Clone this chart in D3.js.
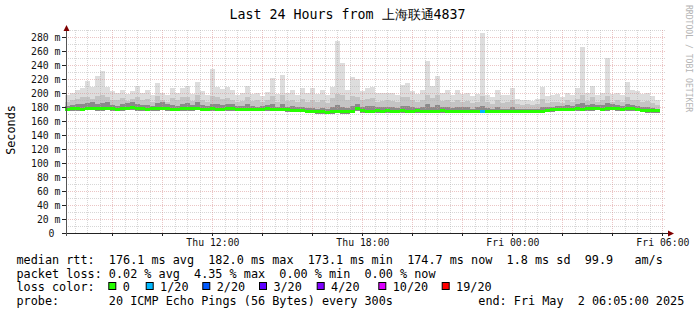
<!DOCTYPE html>
<html>
<head>
<meta charset="utf-8">
<script src="https://cdn.jsdelivr.net/npm/d3@7"></script>
<style>
  html, body { margin: 0; padding: 0; background: #fff; }
  svg { display: block; }
  text { font-family: "DejaVu Sans Mono", monospace; white-space: pre; }
</style>
</head>
<body>
<div id="app"></div>
<script>
// --- data (ms), one value per 12 minute bin ---
const med = [177.2,177.5,177.8,177.4,178.2,178.9,177.6,177.9,178.3,177.5,177.2,177.6,178.4,179.0,177.8,177.5,177.3,177.6,177.9,178.6,
  177.8,177.4,177.2,177.6,177.9,177.5,178.1,177.3,177.0,177.6,177.4,177.2,177.5,177.8,177.3,177.0,177.4,177.1,176.8,177.2,
  177.5,176.9,176.6,177.0,176.3,175.9,175.4,175.0,174.4,173.6,173.3,173.5,173.1,173.4,174.0,173.5,173.4,174.1,178.0,174.8,
  174.6,174.4,174.7,174.5,174.9,174.6,174.3,174.8,174.5,174.4,174.7,174.5,174.3,174.6,174.4,174.7,174.5,174.2,174.4,174.6,
  174.3,174.2,174.5,174.0,174.3,174.1,174.4,174.2,174.0,174.3,174.1,173.9,174.2,174.0,174.3,174.6,175.2,176.3,176.9,177.2,
  177.0,177.4,177.6,177.3,177.8,177.5,177.9,177.4,177.6,178.2,177.5,177.3,177.8,177.5,176.8,175.2,174.9,174.7,174.7];
const lo = [174.8,175.0,175.2,174.9,175.5,176.0,175.0,175.3,175.6,175.0,174.8,175.1,175.7,176.1,175.2,175.0,174.8,175.1,175.3,175.9,
  175.2,174.9,174.7,175.1,175.3,175.0,175.5,174.8,174.5,175.0,174.9,174.7,175.0,175.2,174.8,174.5,174.9,174.6,174.3,174.7,
  175.0,174.4,174.1,174.5,173.8,173.4,172.9,172.5,171.9,171.1,170.8,171.0,170.6,170.9,171.4,171.0,170.9,171.5,174.9,172.2,
  172.1,171.9,172.2,172.0,172.3,172.1,171.8,172.2,172.0,171.9,172.2,172.0,171.8,172.1,171.9,172.2,172.0,171.7,171.9,172.1,
  171.8,171.7,172.0,171.3,171.8,171.6,171.9,171.7,171.5,171.8,171.6,171.4,171.7,171.5,171.8,172.1,172.7,173.8,174.4,174.7,
  174.5,174.9,175.1,174.8,175.3,175.0,175.4,174.9,175.1,175.7,175.0,174.8,175.3,175.0,174.3,172.7,172.4,172.2,172.2];
const darkTop = [182,183,185,184,186,187,185,186,187,183,182,184,186,188,185,183,183,182,186,187,
  184,183,182,185,186,183,187,183,182,185,184,183,185,184,182,182,184,182,181,182,
  183,184,181,185,181,182,180,181,179,179,178,179,177,180,183,181,179,182,185,181,
  182,182,180,180,181,180,179,182,182,180,179,181,184,181,183,180,181,179,180,180,
  180,178,180,182,179,178,180,178,178,180,177,177,177,177,178,181,180,181,182,182,
  183,182,184,186,183,185,183,183,186,184,183,182,185,183,182,180,180,179,178];
const midTop = [188,190,192,194,195,192,196,198,194,191,190,193,189,192,195,190,192,188,196,190,
  188,193,190,194,195,189,197,191,188,196,194,192,193,191,188,189,194,189,190,187,
  190,196,188,197,189,191,187,192,188,191,187,190,186,193,199,197,190,196,195,190,
  192,193,188,189,190,189,187,194,195,190,188,191,198,193,197,189,191,187,190,188,
  189,186,188,196,187,185,190,186,187,191,184,183,184,183,185,192,186,187,188,186,
  190,188,192,197,189,194,188,190,196,188,190,187,195,191,190,187,189,186,183];
const maxRtt = [197,200,205,207,218,209,225,232,209,203,200,205,199,203,210,201,205,198,214,200,
  197,207,201,207,210,199,216,203,198,235,209,206,209,204,197,201,210,199,200,196,
  202,222,199,226,201,205,198,208,200,208,199,205,197,209,275,243,204,223,220,203,
  207,209,200,200,201,201,197,212,214,203,199,205,246,210,225,200,205,198,205,199,
  201,196,199,286,198,194,205,197,198,207,192,190,191,189,192,209,196,197,199,195,
  201,198,207,266,200,211,198,201,251,199,201,197,216,205,203,199,201,196,190];
const lossBins = [83];
const lossPings = [1];

const yTicks = [0,20,40,60,80,100,120,140,160,180,200,220,240,260,280];
const xTickLabels = ["Thu 12:00","Thu 18:00","Fri 00:00","Fri 06:00"];
const xTickTimes = [Date.UTC(2025,4,1,12), Date.UTC(2025,4,1,18), Date.UTC(2025,4,2,0), Date.UTC(2025,4,2,6)];

const lossLabels = ["0","1/20","2/20","3/20","4/20","10/20","19/20"];
const lossColors = ["#26ff00","#00b8ff","#0059ff","#5e00ff","#7e00ff","#dd00ff","#ff0000"];
const lossSteps = [0,1,2,3,4,10,19];

const title = "Last 24 Hours from 上海联通4837";
const legendLines = [
  "median rtt:  176.1 ms avg  182.0 ms max  173.1 ms min  174.7 ms now  1.8 ms sd  99.9   am/s",
  "packet loss: 0.02 % avg  4.35 % max  0.00 % min  0.00 % now"
];
const probeText = "probe:       20 ICMP Echo Pings (56 Bytes) every 300s";
const endText = "end: Fri May  2 06:05:00 2025";

const startTime = Date.UTC(2025,4,1,6,5);
const endTime = Date.UTC(2025,4,2,6,5);
const binMs = 12 * 60 * 1000;

// --- layout ---
const W = 697, H = 315;
const x = d3.scaleUtc().domain([startTime, endTime]).range([65, 665]);
const y = d3.scaleLinear().domain([0, 290]).range([233, 30.4]);
const px = v => Math.floor(v) + 0.5;

const svg = d3.select("#app").append("svg")
  .attr("width", W).attr("height", H)
  .attr("viewBox", [0, 0, W, H]);

svg.append("rect").attr("width", W).attr("height", H).attr("fill", "#fff");

const bins = med.map((m, i) => {
  const li = lossBins.indexOf(i);
  return {
    t0: startTime + i * binMs,
    t1: startTime + (i + 1) * binMs,
    med: m, lo: lo[i], dark: darkTop[i], mid: midTop[i], max: maxRtt[i],
    loss: li >= 0 ? lossPings[li] : 0
  };
});

// smoke
const smoke = svg.append("g").attr("shape-rendering", "crispEdges");
[["max", "#dddddd"], ["mid", "#c4c4c4"], ["dark", "#8a8a8a"]].forEach(([key, col]) => {
  smoke.append("g").selectAll("rect").data(bins).join("rect")
    .attr("x", d => x(d.t0))
    .attr("width", d => x(d.t1) - x(d.t0))
    .attr("y", d => y(d[key]))
    .attr("height", d => y(d.lo) - y(d[key]))
    .attr("fill", col);
});

// grid on top of the smoke
const grid = svg.append("g");
const minorCol = "rgba(175,175,175,0.5)";
const majorCol = "rgba(215,140,140,0.5)";
const minorY = d3.range(10, 291, 10).filter(v => v % 20 !== 0);
const majorY = d3.range(20, 281, 20);
grid.selectAll(".gy").data(minorY).join("line")
  .attr("x1", 66).attr("x2", 665)
  .attr("y1", d => px(y(d))).attr("y2", d => px(y(d)))
  .attr("stroke", minorCol).attr("stroke-dasharray", "1,1");
grid.selectAll(".gx").data(d3.utcMinute.every(30).range(new Date(startTime), new Date(endTime))
    .filter(t => !(t.getUTCMinutes() === 0 && t.getUTCHours() % 2 === 0)))
  .join("line")
  .attr("x1", d => px(x(d))).attr("x2", d => px(x(d)))
  .attr("y1", 30).attr("y2", 233)
  .attr("stroke", minorCol).attr("stroke-dasharray", "1,1");
grid.selectAll(".my").data(majorY).join("line")
  .attr("x1", 66).attr("x2", 665)
  .attr("y1", d => px(y(d))).attr("y2", d => px(y(d)))
  .attr("stroke", majorCol).attr("stroke-dasharray", "1,1");
const majorX = d3.utcHour.every(2).range(new Date(startTime), new Date(endTime));
grid.selectAll(".mx").data(majorX).join("line")
  .attr("x1", d => px(x(d))).attr("x2", d => px(x(d)))
  .attr("y1", 30).attr("y2", 233)
  .attr("stroke", majorCol).attr("stroke-dasharray", "1,1");

// median, coloured by loss
svg.append("g").attr("shape-rendering", "crispEdges")
  .selectAll("rect").data(bins).join("rect")
  .attr("x", d => x(d.t0))
  .attr("width", d => x(d.t1) - x(d.t0))
  .attr("y", d => y(d.med) - 1.5)
  .attr("height", 3)
  .attr("fill", d => {
    let c = lossColors[0];
    lossSteps.forEach((s, k) => { if (d.loss >= s) c = lossColors[k]; });
    return c;
  });

// axes
const ax = svg.append("g");
ax.append("line").attr("x1", 62).attr("x2", 669).attr("y1", 233.5).attr("y2", 233.5)
  .attr("stroke", "#222");
ax.append("line").attr("x1", 66.5).attr("x2", 66.5).attr("y1", 236).attr("y2", 30)
  .attr("stroke", "#555");
ax.append("path").attr("d", "M63.5,31 L66.5,25 L69.5,31 Z").attr("fill", "#7f0000");
ax.append("path").attr("d", "M668,230.5 L674,233.5 L668,236.5 Z").attr("fill", "#7f0000");
ax.selectAll(".tx").data(majorX).join("line")
  .attr("x1", d => px(x(d))).attr("x2", d => px(x(d)))
  .attr("y1", 233).attr("y2", 236).attr("stroke", "#222");
ax.selectAll(".ty").data(yTicks).join("line")
  .attr("x1", 62).attr("x2", 66)
  .attr("y1", d => px(y(d))).attr("y2", d => px(y(d))).attr("stroke", "#222");

ax.selectAll(".yl").data(yTicks).join("text")
  .attr("x", d => d === 0 ? 54.5 : 60.5)
  .attr("y", d => px(y(d)) + 3.5)
  .attr("text-anchor", "end")
  .attr("font-size", "9.8px").attr("fill", "#111")
  .text(d => d === 0 ? "0" : d + " m");

ax.selectAll(".xl").data(xTickTimes).join("text")
  .attr("x", d => x(d))
  .attr("y", 246)
  .attr("text-anchor", "middle")
  .attr("font-size", "9.8px").attr("fill", "#111")
  .text((d, i) => xTickLabels[i]);

// titles
svg.append("text").attr("x", 347.5).attr("y", 19.3).attr("text-anchor", "middle")
  .attr("font-size", "13.3px").attr("fill", "#000").text(title);
svg.append("text").attr("transform", "translate(14.5,130) rotate(-90)")
  .attr("text-anchor", "middle").attr("font-size", "11.8px").attr("fill", "#000")
  .text("Seconds");
svg.append("text").attr("transform", "translate(685.5,5) rotate(90)")
  .attr("font-size", "8.1px").attr("fill", "#b4b4b4")
  .text("RRDTOOL / TOBI OETIKER");

// legend
const leg = svg.append("g").attr("font-size", "11.8px").attr("fill", "#000");
legendLines.forEach((s, i) => {
  leg.append("text").attr("x", 16.5).attr("y", 264 + i * 13.5).text(s);
});
leg.append("text").attr("x", 16.5).attr("y", 291).text("loss color:");
const boxX = [108.3, 145.7, 202.3, 259, 316.7, 378.3, 441.7];
lossLabels.forEach((l, i) => {
  leg.append("rect").attr("x", boxX[i] + 0.5).attr("y", 282.5)
    .attr("width", 7).attr("height", 7)
    .attr("fill", lossColors[i]).attr("stroke", "#000").attr("stroke-width", 1);
  leg.append("text").attr("x", boxX[i] + 14.4).attr("y", 291).text(l);
});
leg.append("text").attr("x", 16.5).attr("y", 304.5).text(probeText);
leg.append("text").attr("x", 478.3).attr("y", 304.5).text(endText);
</script>
</body>
</html>
